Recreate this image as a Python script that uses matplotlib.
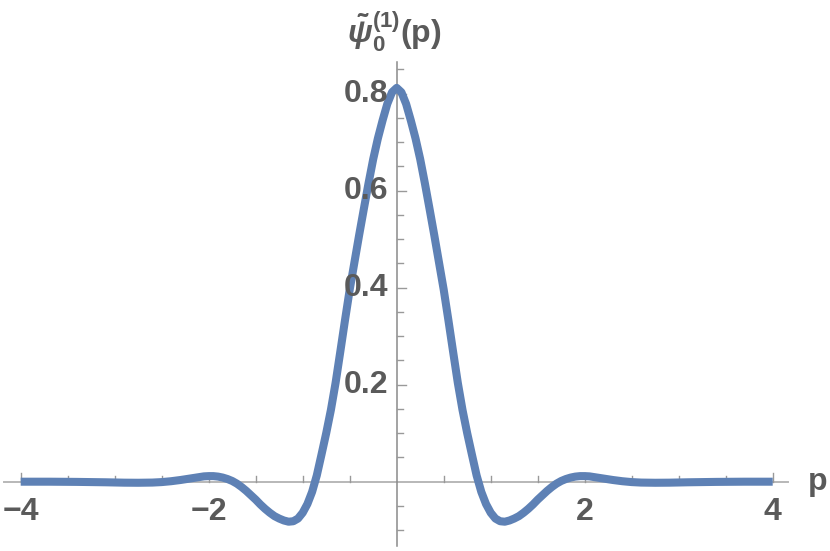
import matplotlib
matplotlib.use("Agg")
import matplotlib.pyplot as plt
import numpy as np

# momentum values (p >= 0 half; curve is even) and wavefunction values
p_half = [0.00, 0.05, 0.10, 0.15, 0.20, 0.25, 0.30, 0.35, 0.40, 0.45, 0.50, 0.55, 0.60,
          0.65, 0.70, 0.75, 0.80, 0.85, 0.90, 0.95, 1.00, 1.05, 1.10, 1.15, 1.20, 1.25,
          1.30, 1.35, 1.40, 1.45, 1.50, 1.55, 1.60, 1.65, 1.70, 1.75, 1.80, 1.85, 1.90,
          1.95, 2.00, 2.05, 2.10, 2.20, 2.30, 2.40, 2.50, 2.60, 2.75, 2.90, 3.10, 3.40,
          3.70, 4.00]
psi_half = [0.812, 0.803, 0.779, 0.745, 0.708, 0.665, 0.615, 0.562, 0.508, 0.452, 0.396,
            0.333, 0.268, 0.204, 0.148, 0.100, 0.056, 0.013, -0.021, -0.046, -0.064,
            -0.076, -0.0815, -0.0825, -0.080, -0.076, -0.071, -0.064, -0.056, -0.047,
            -0.037, -0.028, -0.019, -0.011, -0.004, 0.0015, 0.0055, 0.0085, 0.0105,
            0.0115, 0.0115, 0.011, 0.0095, 0.0065, 0.0035, 0.001, -0.0008, -0.0018,
            -0.0022, -0.002, -0.0012, -0.0004, 0.0, 0.0]

p = [-v for v in p_half[:0:-1]] + p_half
psi = psi_half[:0:-1] + psi_half

x_major = [-4, -2, 2, 4]
x_labels = ["\u22124", "\u22122", "2", "4"]
y_major = [0.2, 0.4, 0.6, 0.8]
y_labels = ["0.2", "0.4", "0.6", "0.8"]

plt.rcParams['mathtext.fontset'] = 'custom'
plt.rcParams['mathtext.it'] = 'Liberation Sans:italic:bold'
plt.rcParams['mathtext.rm'] = 'Liberation Sans:bold'
plt.rcParams['mathtext.bf'] = 'Liberation Sans:bold'

fig = plt.figure(figsize=(8.3, 5.51), dpi=100)
ax = fig.add_axes([0, 0, 1, 1])
x0px, y0px, sx, sy = 396.7, 481.7, 94.0, 485.0
ax.set_xlim(-x0px / sx, (830 - x0px) / sx)
ax.set_ylim((y0px - 551) / sy, y0px / sy)
ax.axis('off')

axis_col = '#b8b8b8'
tick_col = '#999999'
lab_col = '#5a5a5a'
ax.plot([-4.18, 4.16], [0, 0], color=axis_col, lw=1.4, zorder=1)
ax.plot([0, 0], [-0.133, 0.866], color='#8a8a8a', lw=1.1, zorder=1)

# x ticks
for t in np.arange(-4, 4.01, 0.5):
    if abs(t) < 1e-9:
        continue
    h = 9 / sy if abs(t - round(t)) < 1e-9 and int(round(t)) % 2 == 0 else 6 / sy
    ax.plot([t, t], [0, h], color=tick_col, lw=1.0, zorder=1)
# y ticks
for t in np.arange(-0.1, 0.86, 0.05):
    if abs(t) < 1e-9:
        continue
    major = abs(t * 5 - round(t * 5)) < 1e-6
    w = 9 / sx if major else 6 / sx
    ax.plot([0, w], [t, t], color=tick_col, lw=1.0, zorder=1)

ax.plot(p, psi, color='#5E81B5', lw=5.8, solid_capstyle='butt', solid_joinstyle='round', zorder=3)

fp = dict(family='Liberation Sans', fontweight='bold', color=lab_col, fontsize=23)
for t, s in zip(x_major, x_labels):
    ax.text(t, -30 / sy, s, ha='center', va='center', **fp)
for t, s in zip(y_major, y_labels):
    ax.text(-8 / sx, t, s, ha='right', va='center', **fp)

ax.text(4.37, 0.0, "p", ha='left', va='center', **fp)
ax.text(-0.53, 0.927, r"$\tilde{\psi}_0^{(1)}$(p)", ha='left', va='center', **fp)

fig.savefig("out.png", dpi=100)
